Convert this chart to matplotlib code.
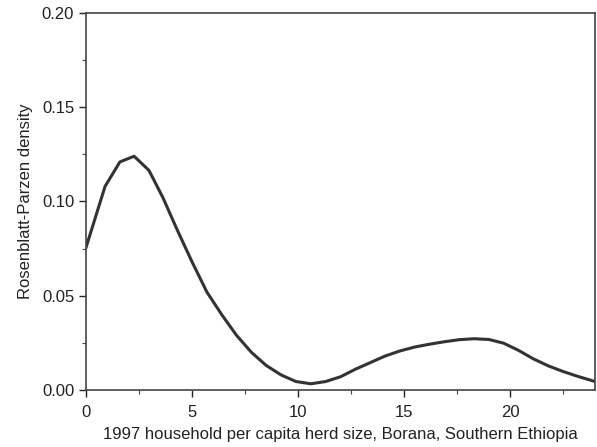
import matplotlib
matplotlib.use("Agg")
import matplotlib.pyplot as plt
from matplotlib.ticker import MultipleLocator

herd_size = [0.0, 0.9, 1.6, 2.27, 2.97, 3.63, 4.3, 5.0, 5.7, 6.4, 7.1, 7.8, 8.5, 9.2,
             9.9, 10.6, 11.3, 12.0, 12.7, 13.4, 14.1, 14.8, 15.5, 16.2, 16.9, 17.6,
             18.3, 19.0, 19.7, 20.4, 21.1, 21.8, 22.5, 23.2, 24.0]
density = [0.0755, 0.108, 0.121, 0.124, 0.1165, 0.102, 0.085, 0.068, 0.052, 0.040,
           0.029, 0.020, 0.013, 0.008, 0.0045, 0.0033, 0.0045, 0.007, 0.011, 0.0145,
           0.018, 0.0207, 0.0228, 0.0243, 0.0256, 0.0267, 0.0272, 0.0268, 0.0248,
           0.021, 0.0165, 0.0128, 0.0098, 0.0072, 0.0045]
x_ticks = [0, 5, 10, 15, 20]
y_ticks = [0.00, 0.05, 0.10, 0.15, 0.20]

plt.rcParams['font.family'] = ['Liberation Sans', 'DejaVu Sans']
fig = plt.figure(figsize=(5.97, 4.47), dpi=100)
ax = fig.add_axes([0.144, 0.1275, 0.8526, 0.8435])
ax.plot(herd_size, density, color='#333333', lw=2.2)
ax.set_xlim(0, 24)
ax.set_ylim(0, 0.20)
ax.set_xticks(x_ticks)
ax.set_yticks(y_ticks)
ax.set_yticklabels([f"{v:.2f}" for v in y_ticks])
ax.xaxis.set_minor_locator(MultipleLocator(2.5))
ax.yaxis.set_minor_locator(MultipleLocator(0.025))
ax.tick_params(which='major', direction='out', length=5, width=1, labelsize=12, colors='#222222')
ax.tick_params(axis='x', which='major', pad=6)
ax.tick_params(which='minor', direction='out', length=3, width=0.8, colors='#444444')
for s in ax.spines.values():
    s.set_color('#444444')
    s.set_linewidth(1.2)
ax.set_xlabel("1997 household per capita herd size, Borana, Southern Ethiopia", fontsize=12, color='#222222', labelpad=5)
ax.set_ylabel("Rosenblatt-Parzen density", fontsize=12, color='#222222', labelpad=6)
fig.savefig("out.png", dpi=100)
